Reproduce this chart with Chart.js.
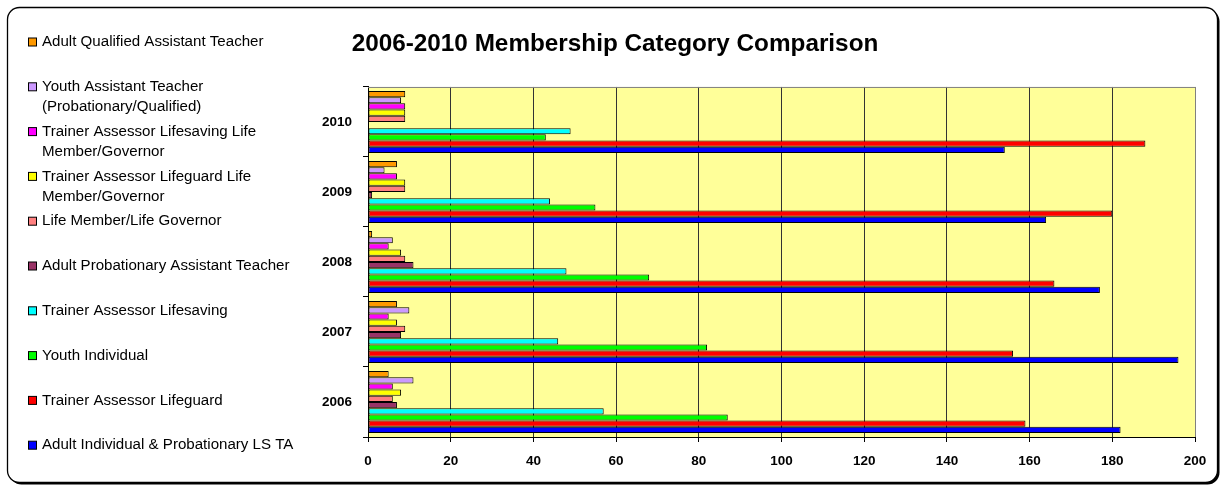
<!DOCTYPE html>
<html>
<head>
<meta charset="utf-8">
<script src="https://cdn.jsdelivr.net/npm/chart.js@4/dist/chart.umd.min.js"></script>
<style>
  html, body { margin: 0; padding: 0; background: #ffffff; }
  #wrap { width: 1224px; height: 487px; }
</style>
</head>
<body>
<div id="wrap"><canvas id="c" width="1224" height="487"></canvas></div>
<script>
// ---- Data ----
const years = ['2006', '2007', '2008', '2009', '2010'];
const seriesNames = [
  ['Adult Qualified Assistant Teacher'],
  ['Youth Assistant Teacher', '(Probationary/Qualified)'],
  ['Trainer Assessor Lifesaving Life', 'Member/Governor'],
  ['Trainer Assessor Lifeguard Life', 'Member/Governor'],
  ['Life Member/Life Governor'],
  ['Adult Probationary Assistant Teacher'],
  ['Trainer Assessor Lifesaving'],
  ['Youth Individual'],
  ['Trainer Assessor Lifeguard'],
  ['Adult Individual & Probationary LS TA']
];
const adultQualifiedAT   = [5, 7, 1, 7, 9];
const youthAssistantT    = [11, 10, 6, 4, 8];
const taLifesavingLife   = [6, 5, 5, 7, 9];
const taLifeguardLife    = [8, 7, 8, 9, 9];
const lifeMember         = [6, 9, 9, 9, 9];
const adultProbationary  = [7, 8, 11, 1, 0];
const taLifesaving       = [57, 46, 48, 44, 49];
const youthIndividual    = [87, 82, 68, 55, 43];
const taLifeguard        = [159, 156, 166, 180, 188];
const adultIndividual    = [182, 196, 177, 164, 154];
const xTicks = [0, 20, 40, 60, 80, 100, 120, 140, 160, 180, 200];

const seriesValues = [adultQualifiedAT, youthAssistantT, taLifesavingLife, taLifeguardLife,
  lifeMember, adultProbationary, taLifesaving, youthIndividual, taLifeguard, adultIndividual];
const seriesColors = ['#FF9900', '#CC99FF', '#FF00FF', '#FFFF00', '#FF8080',
  '#993366', '#00FFFF', '#00FF00', '#FF0000', '#0000FF'];

const FONT = '"Liberation Sans", Arial, sans-serif';

function roundRect(ctx, x, y, w, h, r) {
  ctx.beginPath();
  ctx.moveTo(x + r, y);
  ctx.lineTo(x + w - r, y);
  ctx.arcTo(x + w, y, x + w, y + r, r);
  ctx.lineTo(x + w, y + h - r);
  ctx.arcTo(x + w, y + h, x + w - r, y + h, r);
  ctx.lineTo(x + r, y + h);
  ctx.arcTo(x, y + h, x, y + h - r, r);
  ctx.lineTo(x, y + r);
  ctx.arcTo(x, y, x + r, y, r);
  ctx.closePath();
}

const framePlugin = {
  id: 'frame',
  beforeDraw(chart) {
    const ctx = chart.ctx;
    ctx.save();
    ctx.fillStyle = '#ffffff';
    ctx.fillRect(0, 0, chart.width, chart.height);
    // shadow
    roundRect(ctx, 9.5, 9.5, 1210, 475, 12);
    ctx.fillStyle = '#000000';
    ctx.fill();
    roundRect(ctx, 7.5, 7.5, 1210, 475, 12);
    ctx.fillStyle = '#ffffff';
    ctx.fill();
    ctx.lineWidth = 1.3;
    ctx.strokeStyle = '#000000';
    ctx.stroke();
    // plot background
    const a = chart.chartArea;
    ctx.fillStyle = '#FFFF99';
    ctx.fillRect(a.left, a.top, a.right - a.left, a.bottom - a.top);
    ctx.restore();
  },
  afterDraw(chart) {
    const ctx = chart.ctx;
    const a = chart.chartArea;
    ctx.save();
    ctx.strokeStyle = '#808080';
    ctx.lineWidth = 1;
    ctx.beginPath();
    ctx.moveTo(a.left, a.top + 0.5);
    ctx.lineTo(a.right + 0.5, a.top + 0.5);
    ctx.lineTo(a.right + 0.5, a.bottom);
    ctx.stroke();
    // custom legend
    ctx.font = '15.1px ' + FONT;
    ctx.textBaseline = 'middle';
    ctx.textAlign = 'left';
    chart.data.datasets.forEach((ds, i) => {
      const y0 = 42 + i * 44.8;
      ctx.fillStyle = ds.backgroundColor;
      ctx.fillRect(28.5, y0 - 4, 8, 8);
      ctx.strokeStyle = '#000000';
      ctx.lineWidth = 1;
      ctx.strokeRect(28.5, y0 - 4, 8, 8);
      ctx.fillStyle = '#000000';
      ds.lines.forEach((t, k) => ctx.fillText(t, 42, y0 + k * 20));
    });
    ctx.restore();
  }
};

const datasets = seriesValues.map((vals, i) => ({
  label: seriesNames[i].join(' '),
  lines: seriesNames[i],
  data: vals,
  backgroundColor: seriesColors[i],
  borderColor: '#000000',
  borderWidth: (c) => (c.raw === 0 ? 0 : 1),
  borderSkipped: false,
  categoryPercentage: 0.886,
  barPercentage: 1.0
}));

new Chart(document.getElementById('c'), {
  type: 'bar',
  data: { labels: years, datasets },
  plugins: [framePlugin],
  options: {
    indexAxis: 'y',
    responsive: false,
    animation: false,
    devicePixelRatio: 1,
    layout: { padding: { left: 35, right: 29, top: 0, bottom: 0 } },
    plugins: {
      legend: { display: false },
      tooltip: { enabled: false },
      title: {
        display: true,
        text: '2006-2010 Membership Category Comparison',
        color: '#000000',
        font: { family: FONT, size: 24.3, weight: 'bold', lineHeight: 1.2 },
        padding: { top: 30, bottom: 27.8 }
      }
    },
    scales: {
      x: {
        min: 0, max: 200,
        afterFit(s) { s.height = 50; },
        afterBuildTicks(s) { s.ticks = xTicks.map(v => ({ value: v })); },
        ticks: { color: '#000000', font: { family: FONT, size: 13.5, weight: 'bold' }, padding: 11, maxRotation: 0 },
        grid: { color: (c) => (c.index === xTicks.length - 1 ? '#808080' : '#333333'), lineWidth: 1, tickLength: 5, tickColor: '#000000', drawTicks: true },
        border: { color: '#000000', width: 1 }
      },
      y: {
        reverse: true,
        afterFit(s) { s.width = 333; },
        ticks: { color: '#000000', font: { family: FONT, size: 13.5, weight: 'bold' }, padding: 11 },
        grid: { offset: true, drawOnChartArea: false, tickLength: 5, tickColor: '#000000', color: '#000000' },
        border: { color: '#000000', width: 1 }
      }
    }
  }
});
</script>
</body>
</html>
